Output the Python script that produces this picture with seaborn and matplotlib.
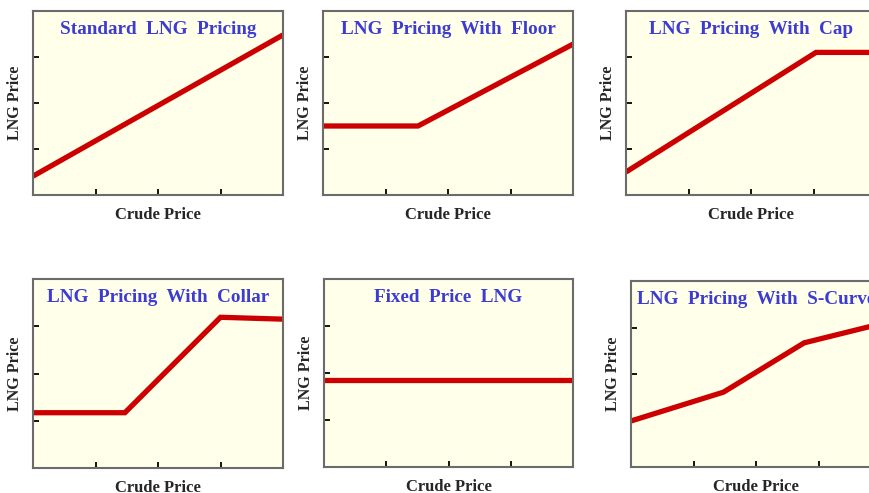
import numpy as np
import pandas as pd
import matplotlib.pyplot as plt
import seaborn as sns

# Panel titles (double spaces as in the original slide)
titles = [
    "Standard  LNG  Pricing",
    "LNG  Pricing  With  Floor",
    "LNG  Pricing  With  Cap",
    "LNG  Pricing  With  Collar",
    "Fixed  Price  LNG",
    "LNG  Pricing  With  S-Curve",
]

# Crude price (x) and LNG price (y) break points for each schematic
standard_x = [0, 4]
standard_y = [0.41, 3.48]
floor_x = [0, 1.52, 4]
floor_y = [1.5, 1.5, 3.28]
cap_x = [0, 3.04, 4]
cap_y = [0.5, 3.1, 3.1]
collar_x = [0, 1.47, 3.0, 4]
collar_y = [1.17, 1.17, 3.19, 3.15]
fixed_x = [0, 4]
fixed_y = [1.85, 1.85]
scurve_x = [0, 1.48, 2.77, 4]
scurve_y = [0.99, 1.61, 2.67, 3.08]

series = [
    (standard_x, standard_y),
    (floor_x, floor_y),
    (cap_x, cap_y),
    (collar_x, collar_y),
    (fixed_x, fixed_y),
    (scurve_x, scurve_y),
]

sns.set_theme(style="ticks")
plt.rcParams['font.family'] = ['Liberation Serif', 'DejaVu Serif']

W, H = 869, 493
fig = plt.figure(figsize=(W / 100, H / 100), dpi=100)

# axes boxes in pixels: left, top, right, bottom
boxes = [
    (33, 11, 283, 195),
    (323, 11, 573, 195),
    (626, 11, 876, 195),
    (33, 279, 283, 468),
    (324, 279, 573, 467),
    (631, 281, 881, 467),
]

for (l, t, r, b), title, (xs, ys) in zip(boxes, titles, series):
    ax = fig.add_axes([l / W, 1 - b / H, (r - l) / W, (b - t) / H])
    ax.set_facecolor('#FFFFEA')
    df = pd.DataFrame({'crude': xs, 'lng': ys})
    sns.lineplot(data=df, x='crude', y='lng', ax=ax, color='#CC0000',
                 linewidth=3.8, solid_capstyle='butt', solid_joinstyle='miter')
    ax.set_xlim(0, 4)
    ax.set_ylim(0, 4)
    ax.set_xticks([1, 2, 3])
    ax.set_yticks([1, 2, 3])
    ax.set_xticklabels([])
    ax.set_yticklabels([])
    ax.tick_params(direction='in', length=4, width=1.3, colors='black')
    for sp in ax.spines.values():
        sp.set_visible(True)
        sp.set_color('#6b6b6b')
        sp.set_linewidth(1.5)
    ax.set_xlabel('Crude Price', fontsize=12, fontweight='bold', labelpad=5)
    ax.set_ylabel('LNG Price', fontsize=11.5, fontweight='bold', labelpad=4)
    ax.text(0.5, 0.9, title, transform=ax.transAxes, ha='center', va='center',
            fontsize=13.8, fontweight='bold', color='#3C3CD2', clip_on=False)

fig.savefig('out.png', dpi=100)
